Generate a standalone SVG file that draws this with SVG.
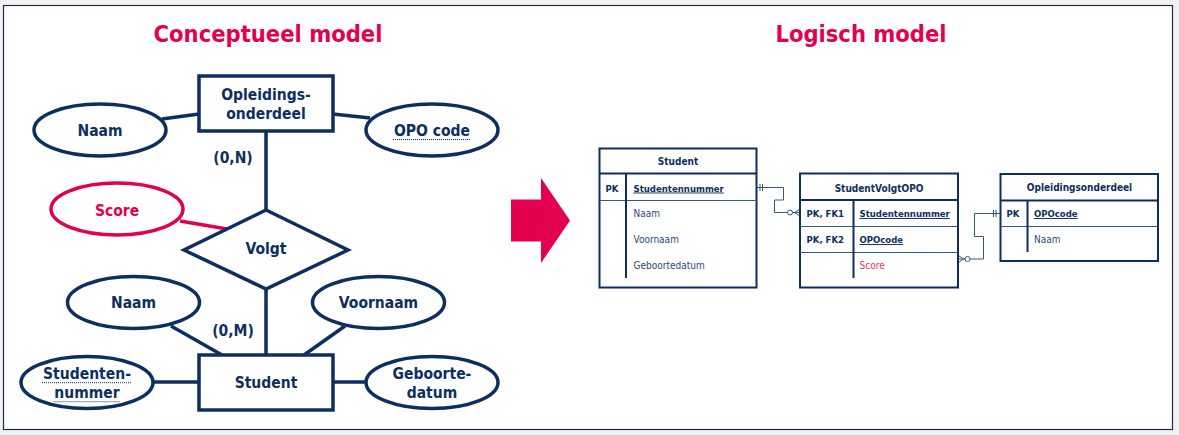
<svg xmlns="http://www.w3.org/2000/svg" width="1179" height="435" viewBox="0 0 1179 435">
<style>
text{font-family:"DejaVu Sans Condensed","DejaVu Sans","Liberation Sans",sans-serif;}
.title{font-size:23.5px;font-weight:bold;fill:#e3004f;text-anchor:middle;}
.cl{font-size:15.5px;font-weight:bold;fill:#0d2f5f;text-anchor:middle;}
.ent{fill:#fff;stroke:#0d2f5f;stroke-width:3.5;}
.attr{fill:#fff;stroke:#0d2f5f;stroke-width:3.5;}
.red{fill:#fff;stroke:#e3004f;stroke-width:3.5;}
.ln{stroke:#0d2f5f;stroke-width:3.5;fill:none;}
.dot{stroke:#0d2f5f;stroke-width:1;stroke-dasharray:1 1;fill:none;}
.tb{fill:#fff;stroke:#0d2f5f;stroke-width:2;}
.th{stroke:#0d2f5f;stroke-width:2;fill:none;}
.tt{stroke:#2e5a8a;stroke-width:1;fill:none;}
.tbold{font-size:9.5px;font-weight:bold;fill:#0d2f5f;}
.thead{font-size:10px;font-weight:bold;fill:#0d2f5f;text-anchor:middle;}
.treg{font-size:10px;fill:#2a4a78;}
.rel{stroke:#2e5a8a;stroke-width:1;fill:none;}
</style>
<rect x="0" y="0" width="1179" height="435" fill="#f2f2f2"/>
<rect x="3.5" y="5.5" width="1169" height="424" fill="#fff" stroke="#1f2d4a" stroke-width="1.2"/>

<text class="title" x="268" y="42">Conceptueel model</text>
<text class="title" x="861" y="42">Logisch model</text>

<g id="connectors">
  <line class="ln" x1="162" y1="119" x2="199" y2="114"/>
  <line class="ln" x1="333" y1="114" x2="370" y2="118"/>
  <line class="ln" x1="266" y1="131" x2="266" y2="211"/>
  <line x1="180" y1="221" x2="227" y2="229" stroke="#e3004f" stroke-width="3.5"/>
  <line class="ln" x1="266" y1="288" x2="266" y2="355"/>
  <line class="ln" x1="171" y1="326" x2="222" y2="355"/>
  <line class="ln" x1="345" y1="326" x2="304" y2="355"/>
  <line class="ln" x1="154" y1="382" x2="199" y2="382"/>
  <line class="ln" x1="333" y1="382" x2="365" y2="382"/>
  <!-- logical: Student to StudentVolgtOPO -->
  <polyline class="rel" points="757,187.5 783.5,187.5 783.5,200 774.5,200 774.5,212.5 787.5,212.5"/>
  <line class="rel" x1="760" y1="184" x2="760" y2="191"/>
  <line class="rel" x1="762.5" y1="184" x2="762.5" y2="191"/>
  <circle class="rel" cx="790" cy="212.5" r="2.5"/>
  <line class="rel" x1="792.5" y1="212.5" x2="800" y2="212.5"/>
  <line class="rel" x1="794.5" y1="212.5" x2="800" y2="209"/>
  <line class="rel" x1="794.5" y1="212.5" x2="800" y2="216"/>
  <!-- logical: StudentVolgtOPO to Opleidingsonderdeel -->
  <polyline class="rel" points="1000,213.5 974.5,213.5 974.5,236.5 983.5,236.5 983.5,259 970,259"/>
  <line class="rel" x1="993.5" y1="210" x2="993.5" y2="217"/>
  <line class="rel" x1="996" y1="210" x2="996" y2="217"/>
  <circle class="rel" cx="967.5" cy="259" r="2.5"/>
  <line class="rel" x1="958.5" y1="259" x2="965" y2="259"/>
  <line class="rel" x1="963.5" y1="259" x2="958.5" y2="255.5"/>
  <line class="rel" x1="963.5" y1="259" x2="958.5" y2="262.5"/>
</g>

<g id="opleidingsonderdeel">
  <rect class="ent" x="199" y="76" width="134" height="55"/>
  <text class="cl" x="266" y="100">Opleidings-</text>
  <text class="cl" x="266" y="119">onderdeel</text>
</g>
<g id="opo-naam">
  <ellipse class="attr" cx="100" cy="130" rx="66" ry="26"/>
  <text class="cl" x="100" y="136">Naam</text>
</g>
<g id="opo-code">
  <ellipse class="attr" cx="432" cy="130" rx="66" ry="26"/>
  <text class="cl" x="432" y="136">OPO code</text>
  <line class="dot" x1="393" y1="139.5" x2="470" y2="139.5"/>
</g>
<text class="cl" x="233" y="163">(0,N)</text>
<g id="score">
  <ellipse class="red" cx="117" cy="209" rx="66" ry="26"/>
  <text class="cl" x="117" y="215.5" style="fill:#e3004f">Score</text>
</g>
<g id="volgt">
  <polygon points="266,210 348,250 266,289 184,250" fill="#fff" stroke="#0d2f5f" stroke-width="3.5" stroke-linejoin="miter"/>
  <text class="cl" x="266" y="254">Volgt</text>
</g>
<text class="cl" x="233" y="336">(0,M)</text>
<g id="student-naam">
  <ellipse class="attr" cx="133.5" cy="302.5" rx="66" ry="26"/>
  <text class="cl" x="133.5" y="308">Naam</text>
</g>
<g id="voornaam">
  <ellipse class="attr" cx="378.5" cy="302.5" rx="66" ry="26"/>
  <text class="cl" x="378.5" y="308">Voornaam</text>
</g>
<g id="student">
  <rect class="ent" x="199" y="355" width="134" height="55"/>
  <text class="cl" x="266" y="388">Student</text>
</g>
<g id="studentennummer">
  <ellipse class="attr" cx="87" cy="382.5" rx="66" ry="26"/>
  <text class="cl" x="87" y="379">Studenten-</text>
  <text class="cl" x="87" y="398">nummer</text>
  <line class="dot" x1="42" y1="382.7" x2="131.5" y2="382.7"/>
  <line class="dot" x1="53.5" y1="401.7" x2="120" y2="401.7"/>
</g>
<g id="geboortedatum">
  <ellipse class="attr" cx="432" cy="382.5" rx="66" ry="26"/>
  <text class="cl" x="432" y="379">Geboorte-</text>
  <text class="cl" x="432" y="398">datum</text>
</g>

<g id="arrow">
  <polygon points="511,199.5 541,199.5 541,178 570,220.5 541,263 541,241.5 511,241.5" fill="#e3004f"/>
</g>

<g id="tbl-student">
  <rect class="tb" x="599.5" y="148.5" width="157" height="139"/>
  <line class="th" x1="599.5" y1="173.5" x2="756.5" y2="173.5"/>
  <line class="tt" x1="599.5" y1="200.5" x2="756.5" y2="200.5"/>
  <line class="th" x1="626" y1="173.5" x2="626" y2="278"/>
  <text class="thead" x="678" y="165">Student</text>
  <text class="tbold" x="605.5" y="191.5">PK</text>
  <text class="tbold" x="633.5" y="191.5" text-decoration="underline">Studentennummer</text>
  <text class="treg" x="633.5" y="217">Naam</text>
  <text class="treg" x="633.5" y="243">Voornaam</text>
  <text class="treg" x="633.5" y="269">Geboortedatum</text>
</g>

<g id="tbl-studentvolgtopo">
  <rect class="tb" x="800" y="173.5" width="158" height="114"/>
  <line class="th" x1="800" y1="200" x2="958" y2="200"/>
  <line class="tt" x1="800" y1="226.5" x2="958" y2="226.5"/>
  <line class="tt" x1="800" y1="252.5" x2="958" y2="252.5"/>
  <line class="th" x1="853.5" y1="200" x2="853.5" y2="278"/>
  <text class="thead" x="879" y="191.5">StudentVolgtOPO</text>
  <text class="tbold" x="806.5" y="217">PK, FK1</text>
  <text class="tbold" x="859.5" y="217" text-decoration="underline">Studentennummer</text>
  <text class="tbold" x="806.5" y="243">PK, FK2</text>
  <text class="tbold" x="859.5" y="243" text-decoration="underline">OPOcode</text>
  <text class="treg" x="859.5" y="269" style="fill:#e8336b">Score</text>
</g>

<g id="tbl-opleidingsonderdeel">
  <rect class="tb" x="1000.5" y="174" width="157.5" height="87"/>
  <line class="th" x1="1000.5" y1="200.5" x2="1158" y2="200.5"/>
  <line class="tt" x1="1000.5" y1="226.5" x2="1158" y2="226.5"/>
  <line class="th" x1="1027.5" y1="200.5" x2="1027.5" y2="252"/>
  <text class="thead" x="1079.5" y="190.5">Opleidingsonderdeel</text>
  <text class="tbold" x="1006.5" y="217">PK</text>
  <text class="tbold" x="1034" y="217" text-decoration="underline">OPOcode</text>
  <text class="treg" x="1034" y="243">Naam</text>
</g>
</svg>
